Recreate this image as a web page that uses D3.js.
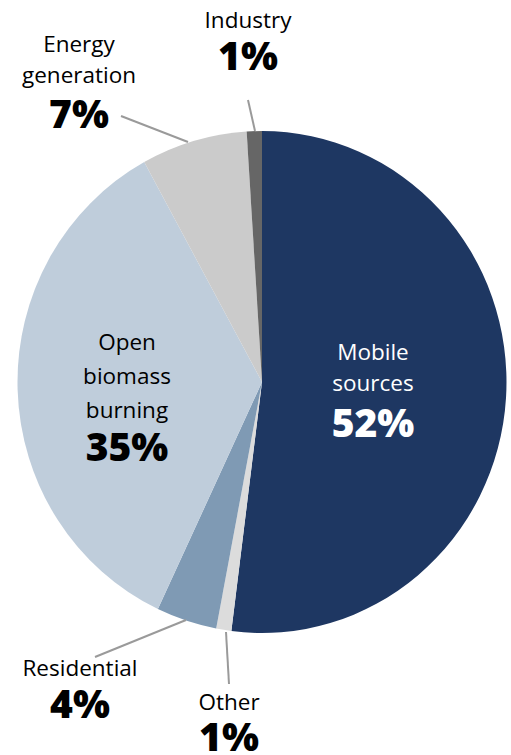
<!DOCTYPE html>
<html><head><meta charset="utf-8">
<script src="https://cdn.jsdelivr.net/npm/d3@7"></script>
<style>body{margin:0;background:#fff}svg{display:block}</style>
</head><body>
<script>
const categories = ["Mobile sources","Other","Residential","Open biomass burning","Energy generation","Industry"];
const values = [52, 1, 4, 35, 7, 1];
const labels = ["52%","1%","4%","35%","7%","1%"];
const colors = ["#1e3762","#dcdcdc","#7f9ab4","#bfcddb","#cbcbcb","#666666"];

const W = 511, H = 755;
const cx = 262, cy = 382, r = 244.5, sy = 251/244.5;
const svg = d3.select("body").append("svg").attr("width", W).attr("height", H);

const pie = d3.pie().sort(null).value(d => d)(values);
const arc = d3.arc().innerRadius(0).outerRadius(r);

const g = svg.append("g").attr("transform", `translate(${cx},${cy}) scale(1,${sy})`);
g.selectAll("path").data(pie).join("path")
  .attr("d", arc).attr("fill", (d,i) => colors[i]);

const font = "'Open Sans','Noto Sans',sans-serif";
const layout = [
  {i:0, lines:["Mobile","sources"], x:373, ys:[360,391], py:437, fill:"#fff"},
  {i:1, lines:["Other"], x:229, ys:[710], py:751, fill:"#000", leader:[[226,632],[229,684]]},
  {i:2, lines:["Residential"], x:80, ys:[676], py:718, fill:"#000", leader:[[186,620],[95,657]]},
  {i:3, lines:["Open","biomass","burning"], x:127, ys:[350,384,418], py:461, fill:"#000"},
  {i:4, lines:["Energy","generation"], x:79, ys:[52,83], py:128, fill:"#000", leader:[[188,142],[121,116]]},
  {i:5, lines:["Industry"], x:248, ys:[28], py:70, fill:"#000", leader:[[255,131],[248,100]]}
];
layout.forEach(L => {
  if (L.leader) svg.append("line")
    .attr("x1", L.leader[0][0]).attr("y1", L.leader[0][1])
    .attr("x2", L.leader[1][0]).attr("y2", L.leader[1][1])
    .attr("stroke", "#9a9a9a").attr("stroke-width", 2);
  L.lines.forEach((t, k) => svg.append("text")
    .attr("x", L.x).attr("y", L.ys[k]).attr("text-anchor", "middle")
    .attr("font-family", font).attr("font-size", 22.5).attr("fill", L.fill).text(t));
  svg.append("text").attr("x", L.x).attr("y", L.py).attr("text-anchor", "middle")
    .attr("font-family", font).attr("font-weight", 800).attr("font-size", 39)
    .attr("fill", L.fill).text(labels[L.i]);
});
</script>
</body></html>
